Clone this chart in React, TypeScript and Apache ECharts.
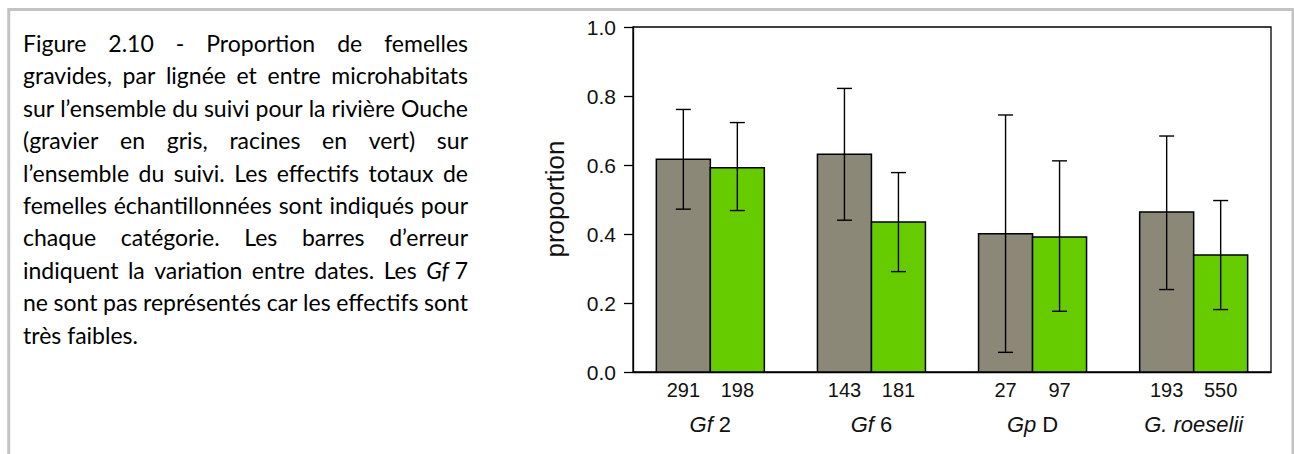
import React, { useEffect, useRef } from 'react';
import * as echarts from 'echarts';

const categoryItalic = ['Gf', 'Gf', 'Gp', 'G. roeselii'];
const categoryRoman = [' 2', ' 6', ' D', ''];

const gravelValues = [0.617, 0.631, 0.401, 0.464];
const gravelLow = [0.472, 0.44, 0.057, 0.239];
const gravelHigh = [0.761, 0.822, 0.745, 0.684];
const gravelCounts = [291, 143, 27, 193];

const rootsValues = [0.592, 0.435, 0.391, 0.339];
const rootsLow = [0.468, 0.291, 0.176, 0.181];
const rootsHigh = [0.723, 0.578, 0.612, 0.497];
const rootsCounts = [198, 181, 97, 550];

const yAxisTitle = 'proportion';

const captionLines = [
  'Figure 2.10 - Proportion de femelles',
  'gravides, par lignée et entre microhabitats',
  'sur l’ensemble du suivi pour la rivière Ouche',
  '(gravier en gris, racines en vert) sur',
  'l’ensemble du suivi. Les effectifs totaux de',
  'femelles échantillonnées sont indiqués pour',
  'chaque catégorie. Les barres d’erreur',
  'indiquent la variation entre dates. Les Gf 7',
  'ne sont pas représentés car les effectifs sont',
  'très faibles.',
];
const captionItalicWords = ['Gf'];

const CAP_FONT = 'Lato';
const CAP_SIZE = 23;
const CAP_LEFT = 23;
const CAP_RIGHT = 468;
const CAP_TOP = 43;
const CAP_STEP = 32.4;

function buildCaption(): any[] {
  const canvas = document.createElement('canvas');
  const ctx = canvas.getContext('2d')!;
  const measure = (t: string, italic: boolean) => {
    ctx.font = `${italic ? 'italic ' : ''}${CAP_SIZE}px ${CAP_FONT}`;
    return ctx.measureText(t).width;
  };
  const els: any[] = [];
  captionLines.forEach((line, li) => {
    const tokens = line.split(' ');
    const units: { text: string; rich: boolean; w: number }[] = [];
    for (let k = 0; k < tokens.length; k++) {
      const tk = tokens[k];
      if (captionItalicWords.includes(tk) && k + 1 < tokens.length) {
        const next = tokens[k + 1];
        units.push({
          text: `{i|${tk}}{n| ${next}}`,
          rich: true,
          w: measure(tk, true) + measure(' ' + next, false),
        });
        k++;
      } else {
        units.push({ text: tk, rich: false, w: measure(tk, false) });
      }
    }
    const total = units.reduce((s, u) => s + u.w, 0);
    const last = li === captionLines.length - 1;
    const gap = last || units.length < 2 ? measure(' ', false) : (CAP_RIGHT - CAP_LEFT - total) / (units.length - 1);
    let x = CAP_LEFT;
    const y = CAP_TOP + li * CAP_STEP;
    units.forEach((u) => {
      const style: any = {
        text: u.text,
        fill: '#000',
        fontFamily: CAP_FONT,
        fontSize: CAP_SIZE,
        align: 'left',
        verticalAlign: 'middle',
      };
      if (u.rich) {
        style.rich = {
          i: { fontStyle: 'italic', fontFamily: CAP_FONT, fontSize: CAP_SIZE, fill: '#000' },
          n: { fontFamily: CAP_FONT, fontSize: CAP_SIZE, fill: '#000' },
        };
      }
      els.push({ type: 'text', x, y, silent: true, style });
      x += u.w + gap;
    });
  });
  return els;
}

const BAR_W = 54;
const CAP_HALF = 7.5;
const AX_FONT = 'Liberation Sans, Arial, sans-serif';

function barSeries(name: string, values: number[], low: number[], high: number[], counts: number[], color: string, offset: number) {
  return {
    type: 'custom',
    name,
    clip: false,
    data: values.map((v, i) => [i, v, low[i], high[i], counts[i]]),
    renderItem: (params: any, api: any) => {
      const i = api.value(0);
      const base = api.coord([i, 0]);
      const top = api.coord([i, api.value(1)]);
      const lo = api.coord([i, api.value(2)]);
      const hi = api.coord([i, api.value(3)]);
      const cx = base[0] + offset;
      return {
        type: 'group',
        children: [
          {
            type: 'rect',
            shape: { x: cx - BAR_W / 2, y: top[1], width: BAR_W, height: base[1] - top[1] },
            style: { fill: color, stroke: '#000', lineWidth: 1.5 },
          },
          { type: 'line', shape: { x1: cx, y1: lo[1], x2: cx, y2: hi[1] }, style: { stroke: '#000', lineWidth: 1.4 } },
          { type: 'line', shape: { x1: cx - CAP_HALF, y1: hi[1], x2: cx + CAP_HALF, y2: hi[1] }, style: { stroke: '#000', lineWidth: 1.4 } },
          { type: 'line', shape: { x1: cx - CAP_HALF, y1: lo[1], x2: cx + CAP_HALF, y2: lo[1] }, style: { stroke: '#000', lineWidth: 1.4 } },
          {
            type: 'text',
            x: cx,
            y: base[1] + 18,
            style: {
              text: String(api.value(4)),
              fill: '#111',
              fontFamily: AX_FONT,
              fontSize: 20,
              align: 'center',
              verticalAlign: 'middle',
            },
          },
        ],
      };
    },
  };
}

export default function App() {
  const ref = useRef<HTMLDivElement>(null);
  useEffect(() => {
    if (!ref.current) return;
    const chart = echarts.init(ref.current, null, { renderer: 'svg' });
    const option: any = {
      animation: false,
      backgroundColor: '#fff',
      grid: { left: 633, right: 23, top: 27, bottom: 82, show: true, borderColor: '#000', borderWidth: 1.3 },
      xAxis: {
        type: 'value',
        min: -0.48,
        max: 3.48,
        axisLine: { show: true, onZero: false, lineStyle: { color: '#000', width: 1.3 } },
        axisTick: { show: false },
        axisLabel: { show: false },
        splitLine: { show: false },
      },
      yAxis: {
        type: 'value',
        min: 0,
        max: 1,
        interval: 0.2,
        axisLine: { show: true, onZero: false, lineStyle: { color: '#000', width: 1.3 } },
        axisTick: { show: true, length: 9, lineStyle: { color: '#000', width: 1.3 } },
        axisLabel: {
          margin: 17,
          color: '#111',
          fontFamily: AX_FONT,
          fontSize: 21,
          formatter: (v: number) => v.toFixed(1),
        },
        splitLine: { show: false },
      },
      series: [
        barSeries('gravier', gravelValues, gravelLow, gravelHigh, gravelCounts, '#8b8877', -BAR_W / 2),
        barSeries('racines', rootsValues, rootsLow, rootsHigh, rootsCounts, '#66cc00', BAR_W / 2),
        {
          type: 'custom',
          name: 'categories',
          clip: false,
          data: categoryItalic.map((_, i) => [i]),
          renderItem: (params: any, api: any) => {
            const i = api.value(0);
            const p = api.coord([i, 0]);
            const idx = params.dataIndex;
            const roman = categoryRoman[idx];
            return {
              type: 'text',
              x: p[0],
              y: p[1] + 52,
              style: {
                text: `{i|${categoryItalic[idx]}}` + (roman ? `{n|${roman}}` : ''),
                align: 'center',
                verticalAlign: 'middle',
                rich: {
                  i: { fontStyle: 'italic', fontFamily: AX_FONT, fontSize: 22, fill: '#111' },
                  n: { fontFamily: AX_FONT, fontSize: 22, fill: '#111' },
                },
              },
            };
          },
        },
      ],
      graphic: [
        {
          type: 'polyline',
          silent: true,
          shape: { points: [[8.75, 454], [8.75, 9.5], [1293, 9.5], [1293, 454]] },
          style: { stroke: '#c3c3c3', lineWidth: 3, fill: 'none' },
        },
        {
          type: 'text',
          x: 555,
          y: 199,
          rotation: Math.PI / 2,
          silent: true,
          style: {
            text: yAxisTitle,
            fill: '#111',
            fontFamily: AX_FONT,
            fontSize: 26,
            align: 'center',
            verticalAlign: 'middle',
          },
        },
        ...buildCaption(),
      ],
    };
    chart.setOption(option);
    return () => chart.dispose();
  }, []);
  return <div ref={ref} style={{ position: 'fixed', left: 0, top: 0, width: 1294, height: 454 }} />;
}
